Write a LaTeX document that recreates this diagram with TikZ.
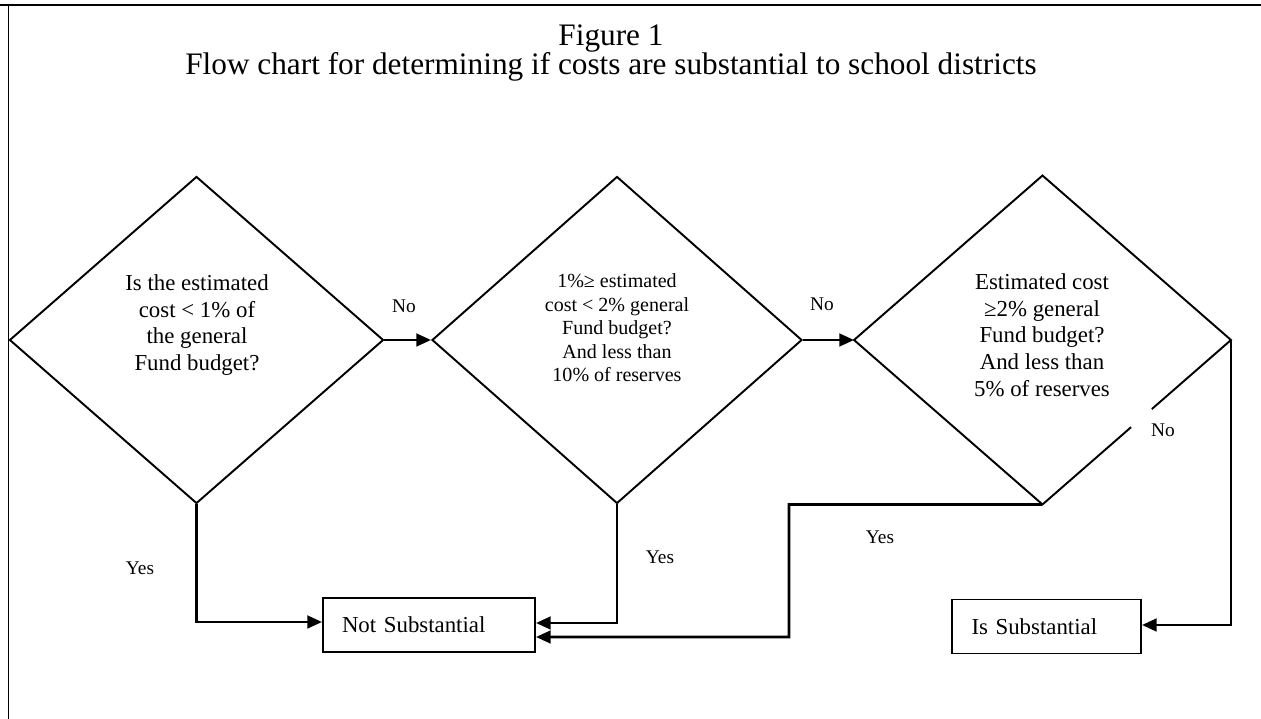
\documentclass[tikz,border=0pt]{standalone}
\usepackage{fontspec}
\setmainfont{Liberation Serif}
\usetikzlibrary{arrows.meta,shapes.geometric,calc}

\begin{document}
\begin{tikzpicture}[
  diamondbox/.style={draw, shape=diamond, line width=5.5pt, minimum width=37.4cm, minimum height=32.7cm, inner sep=0pt},
  qtext/.style={align=center, font=\fontsize{65}{76}\selectfont},
  resultbox/.style={draw, line width=5.5pt, font=\fontsize{65}{76}\selectfont, minimum height=5.4cm, inner ysep=0pt, align=left},
  flow/.style={line width=8pt, -{Triangle[length=42pt,width=36pt]}},
  answer/.style={font=\fontsize{55}{66}\selectfont}
]
  \useasboundingbox (0,0) rectangle (126.1,71.9);
  % Draw frame (top and left edges only)
  \draw [line width=5pt] (0,71.4) -- (126.1,71.4);
  \draw [line width=3pt] (0.85,71.4) -- (0.85,0);
  % Add title
  \node [font=\fontsize{89}{99}\selectfont] (title) at (61.1,68.05) {Figure 1};
  \node [font=\fontsize{89}{99}\selectfont] (subtitle) at (61.1,65.25) {Flow chart for determining if costs are substantial to school districts};
  % Draw decision diamonds
  \node [diamondbox] (d1) at (19.65,37.9) {};
  \node [diamondbox, minimum width=37cm] (d2) at (61.7,37.9) {};
  \node [diamondbox, draw=none, minimum width=37.5cm] (d3) at (104.25,37.9) {};
  % Third diamond is broken next to its No label
  \draw [line width=5.5pt] (d3.south) -- (d3.west) -- (d3.north) -- (d3.east) -- ($(d3.east)!0.42!(d3.south)$);
  \draw [line width=5.5pt] ($(d3.east)!0.53!(d3.south)$) -- (d3.south);
  % Add questions
  \node [qtext] (q1) at (19.7,39.4) {Is the estimated\\cost < 1\% of\\the general\\Fund budget?};
  \node [qtext, font=\fontsize{57}{67}\selectfont] (q2) at (61.7,39.1) {1\%≥ estimated\\cost < 2\% general\\Fund budget?\\And less than\\10\% of reserves};
  \node [qtext] (q3) at (104.2,38.4) {Estimated cost\\≥2\% general\\Fund budget?\\And less than\\5\% of reserves};
  % Draw result boxes
  \node [resultbox, text width=17.4cm, inner xsep=1.9cm] (ns) at (42.9,9.4) {Not Substantial};
  \node [resultbox, text width=15cm, inner xsep=1.95cm] (is) at (104.65,9.25) {Is Substantial};
  % Draw No arrows
  \draw [flow] (d1.east) -- (d2.west);
  \draw [flow] (d2.east) -- (d3.west);
  \draw [flow] (d3.east) |- ([yshift=1.5mm]is.east);
  % Draw Yes arrows
  \coordinate (jog) at (78.9,8.2);
  \draw [flow] (d1.south) |- ([yshift=3mm]ns.west);
  \draw [flow] (d2.south) |- ([yshift=2mm]ns.east);
  \draw [flow] (d3.south) -| (jog) -- ([yshift=-12mm]ns.east);
  % Add answer labels
  \node [answer] (no1) at (40.4,41.3) {No};
  \node [answer] (no2) at (82.2,41.5) {No};
  \node [answer] (no3) at (116.3,28.9) {No};
  \node [answer] (yes1) at (14.0,15.1) {Yes};
  \node [answer] (yes2) at (66.0,16.2) {Yes};
  \node [answer] (yes3) at (88.0,18.2) {Yes};
\end{tikzpicture}
\end{document}
